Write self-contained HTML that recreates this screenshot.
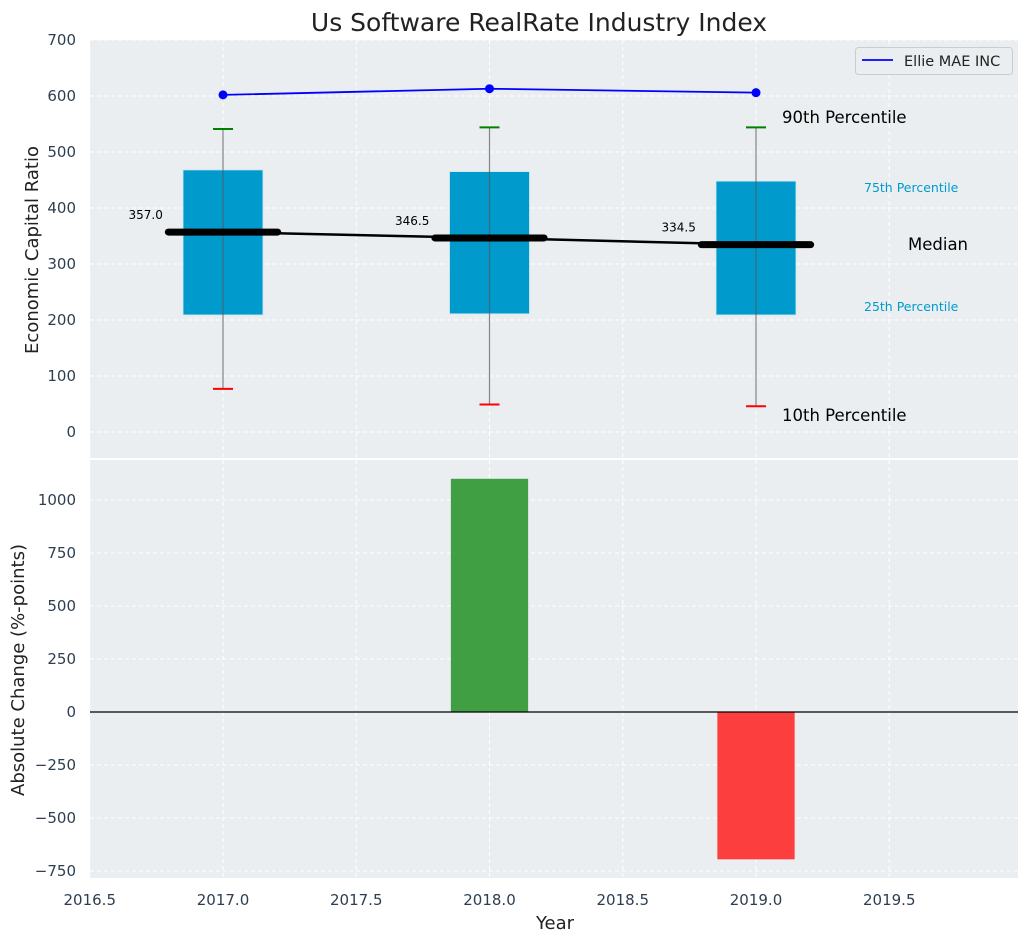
<!DOCTYPE html>
<html><head><meta charset="utf-8"><style>
body{margin:0;background:#fff;font-family:"DejaVu Sans","Liberation Sans",sans-serif;}
svg text{font-family:"DejaVu Sans","Liberation Sans",sans-serif;}
</style></head><body>
<svg id="c" width="1029" height="942" xmlns="http://www.w3.org/2000/svg"></svg>
<script>
const years=[2017,2018,2019];
const lineVals=[602,613,606];
const p10=[77,49,46];
const p25=[209,211,209];
const median=[357,346.5,334.5];
const p75=[468,465,448];
const p90=[541,544,544];
const changes=[0,1100,-695];
const xTicks=[2016.5,2017,2017.5,2018,2018.5,2019,2019.5];
const topTicks=[0,100,200,300,400,500,600,700];
const botTicks=[-750,-500,-250,0,250,500,750,1000];

const svg=document.getElementById('c');
const NS='http://www.w3.org/2000/svg';
function mk(tag,attrs,parent,name,txt){const e=document.createElementNS(NS,tag);for(const k in attrs)e.setAttribute(k,attrs[k]);


if(txt!==undefined)e.textContent=txt;(parent||svg).appendChild(e);return e;}
const L=90,R=1018;
const xs=v=>89.75+(v-2016.5)*266.5;
const yt=v=>432-v*0.56;
const yb=v=>712-v*0.212;
const fmt=t=>String(t).replace('-','\u2212');
mk('rect',{x:L,y:40,width:R-L,height:418,fill:'#eaeef0'},svg,'top-plot-area');
mk('rect',{x:L,y:460,width:R-L,height:418,fill:'#eaeef0'},svg,'bottom-plot-area');
xTicks.forEach(t=>{const x=xs(t);
mk('line',{x1:x,x2:x,y1:40,y2:458,stroke:'#fff','stroke-dasharray':'4,3','stroke-width':1},svg,'x-grid');
mk('line',{x1:x,x2:x,y1:460,y2:878,stroke:'#fff','stroke-dasharray':'4,3','stroke-width':1},svg,'x-grid');
mk('text',{x:x,y:905,'text-anchor':'middle','font-size':15,fill:'#2d3e50'},svg,'x-tick-label',t.toFixed(1));});
topTicks.forEach(t=>{const y=yt(t);
mk('line',{x1:L,x2:R,y1:y,y2:y,stroke:'#fff','stroke-dasharray':'4,3'},svg,'y-grid');
mk('text',{x:76,y:y+5,'text-anchor':'end','font-size':15,fill:'#2d3e50'},svg,'y-tick-label',fmt(t));});
botTicks.forEach(t=>{const y=yb(t);
mk('line',{x1:L,x2:R,y1:y,y2:y,stroke:'#fff','stroke-dasharray':'4,3'},svg,'y-grid');
mk('text',{x:76,y:y+5,'text-anchor':'end','font-size':15,fill:'#2d3e50'},svg,'y-tick-label',fmt(t));});
const bw=0.3;
years.forEach((yr,i)=>{const x=xs(yr);
mk('rect',{x:xs(yr-bw/2),y:yt(p75[i]),width:xs(yr+bw/2)-xs(yr-bw/2),height:yt(p25[i])-yt(p75[i]),fill:'#009bcc',stroke:'#cde7f0','stroke-width':0.8},svg,'box-'+yr);
mk('line',{x1:x,x2:x,y1:yt(p90[i]),y2:yt(p10[i]),stroke:'#555','stroke-opacity':0.7,'stroke-width':1.2},svg,'whisker-'+yr);
mk('line',{x1:x-10,x2:x+10,y1:yt(p90[i]),y2:yt(p90[i]),stroke:'green','stroke-width':2},svg,'p90-cap');
mk('line',{x1:x-10,x2:x+10,y1:yt(p10[i]),y2:yt(p10[i]),stroke:'red','stroke-width':2},svg,'p10-cap');
});
mk('polyline',{points:years.map((y,i)=>xs(y)+','+yt(median[i])).join(' '),fill:'none',stroke:'#000','stroke-width':2.5},svg,'median-line');
years.forEach((yr,i)=>{
mk('line',{x1:xs(yr-0.205),x2:xs(yr+0.205),y1:yt(median[i]),y2:yt(median[i]),stroke:'#000','stroke-width':7,'stroke-linecap':'round'},svg,'median-bar');
mk('text',{x:xs(yr-0.29),y:yt(median[i])-13,'text-anchor':'middle','font-size':12,fill:'#000'},svg,'median-label',median[i].toFixed(1));});
mk('polyline',{points:years.map((y,i)=>xs(y)+','+yt(lineVals[i])).join(' '),fill:'none',stroke:'blue','stroke-width':1.8},svg,'ellie-line');
years.forEach((yr,i)=>mk('circle',{cx:xs(yr),cy:yt(lineVals[i]),r:4.5,fill:'blue'},svg,'ellie-point'));
mk('text',{x:782,y:123,'font-size':16.5,fill:'#000'},svg,'p90-annotation','90th Percentile');
mk('text',{x:782,y:421,'font-size':16.5,fill:'#000'},svg,'p10-annotation','10th Percentile');
mk('text',{x:908,y:250,'font-size':16.5,fill:'#000'},svg,'median-annotation','Median');
mk('text',{x:864,y:192,'font-size':12.5,fill:'#009bcc'},svg,'p75-annotation','75th Percentile');
mk('text',{x:864,y:311,'font-size':12.5,fill:'#009bcc'},svg,'p25-annotation','25th Percentile');
const lg=mk('g',{},svg,'legend');
mk('rect',{x:855.5,y:47.5,width:157,height:27,rx:3,fill:'#eaeef0',stroke:'#ccc'},lg,'legend-box');
mk('line',{x1:862,x2:893,y1:60,y2:60,stroke:'blue','stroke-width':1.8},lg,'legend-line');
mk('text',{x:904,y:66,'font-size':14.5,fill:'#222'},lg,'legend-entry','Ellie MAE INC');
years.forEach((yr,i)=>{const v=changes[i];if(v===0)return;
mk('rect',{x:xs(yr-0.145),width:xs(yr+0.145)-xs(yr-0.145),y:Math.min(yb(v),yb(0)),height:Math.abs(yb(v)-yb(0)),fill:v>0?'#2e9630':'#ff2a2a','fill-opacity':0.9},svg,'change-bar-'+yr);});
mk('line',{x1:L,x2:R,y1:yb(0),y2:yb(0),stroke:'#000','stroke-width':1.2},svg,'zero-line');
mk('text',{x:539,y:31,'text-anchor':'middle','font-size':25,fill:'#222'},svg,'chart-title','Us Software RealRate Industry Index');
mk('text',{x:555,y:929,'text-anchor':'middle','font-size':18,fill:'#222'},svg,'x-axis-title','Year');
mk('text',{x:0,y:0,'text-anchor':'middle','font-size':18,fill:'#222',transform:'translate(38,250) rotate(-90)'},svg,'y-axis-title-top','Economic Capital Ratio');
mk('text',{x:0,y:0,'text-anchor':'middle','font-size':18,fill:'#222',transform:'translate(24,670) rotate(-90)'},svg,'y-axis-title-bottom','Absolute Change (%-points)');
</script>
</body></html>
